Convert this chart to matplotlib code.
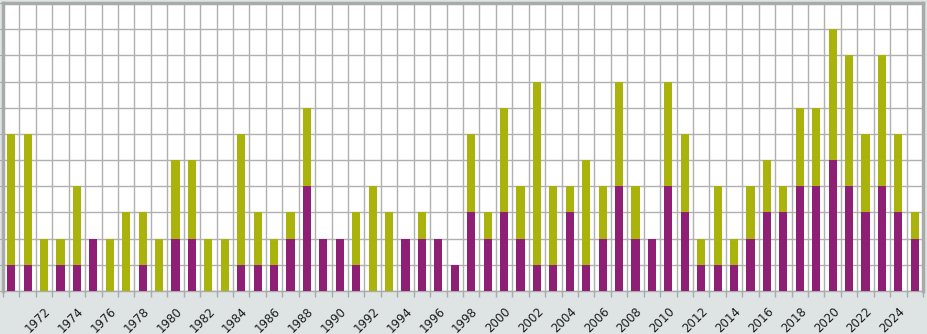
import numpy as np
import matplotlib.pyplot as plt
from matplotlib.ticker import MultipleLocator, FixedLocator

years = np.arange(1970, 2026)
purple = [1, 1, 0, 1, 1, 2, 0, 0, 1, 0,
          2, 2, 0, 0, 1, 1, 1, 2, 4, 2,
          2, 1, 0, 0, 2, 2, 2, 1, 3, 2,
          3, 2, 1, 1, 3, 1, 2, 4, 2, 2,
          4, 3, 1, 1, 1, 2, 3, 3, 4, 4,
          5, 4, 3, 4, 3, 2]
olive = [5, 5, 2, 1, 3, 0, 2, 3, 2, 2,
         3, 3, 2, 2, 5, 2, 1, 1, 3, 0,
         0, 2, 4, 3, 0, 1, 0, 0, 3, 1,
         4, 2, 7, 3, 1, 4, 2, 4, 2, 0,
         4, 3, 1, 3, 1, 2, 2, 1, 3, 3,
         5, 5, 3, 5, 3, 1]
label_years = np.arange(1972, 2026, 2)

W, H = 927, 334
fig = plt.figure(figsize=(W / 100, H / 100), dpi=100)
fig.patch.set_facecolor('#dee4e4')
ax = fig.add_axes([3 / W, (H - 291) / H, 920 / W, 288 / H])
ax.set_facecolor('white')

ax.bar(years, purple, width=0.5, color='#8e1f74', zorder=3)
ax.bar(years, olive, width=0.5, bottom=purple, color='#aab20c', zorder=3)

ax.set_xlim(1969.5, 2025.5)
ax.set_ylim(0, 11)

# grid lines sit between the bars, labels sit under the bars
ax.xaxis.set_minor_locator(FixedLocator(np.arange(1969.5, 2026, 1)))
ax.set_xticks(label_years)
ax.set_xticklabels([str(y) for y in label_years], rotation=45, ha='right',
                   rotation_mode='anchor', fontsize=8.5, color='#1a1a1a')
ax.tick_params(axis='x', which='major', length=0, pad=10)
ax.tick_params(axis='x', which='minor', length=4, color='#aaaaaa', width=1)
ax.yaxis.set_major_locator(MultipleLocator(1))
ax.tick_params(axis='y', length=3, color='#aaaaaa', labelleft=False)

ax.grid(True, which='minor', axis='x', color='#b0b0b0', lw=1, zorder=0)
ax.grid(True, which='major', axis='y', color='#b0b0b0', lw=1, zorder=0)

for side in ['left', 'right', 'top']:
    ax.spines[side].set_color('#aaaaaa')
    ax.spines[side].set_linewidth(2.5)
ax.spines['bottom'].set_color('#aaaaaa')
ax.spines['bottom'].set_linewidth(1)

fig.savefig('out.png', dpi=100, facecolor=fig.get_facecolor())
